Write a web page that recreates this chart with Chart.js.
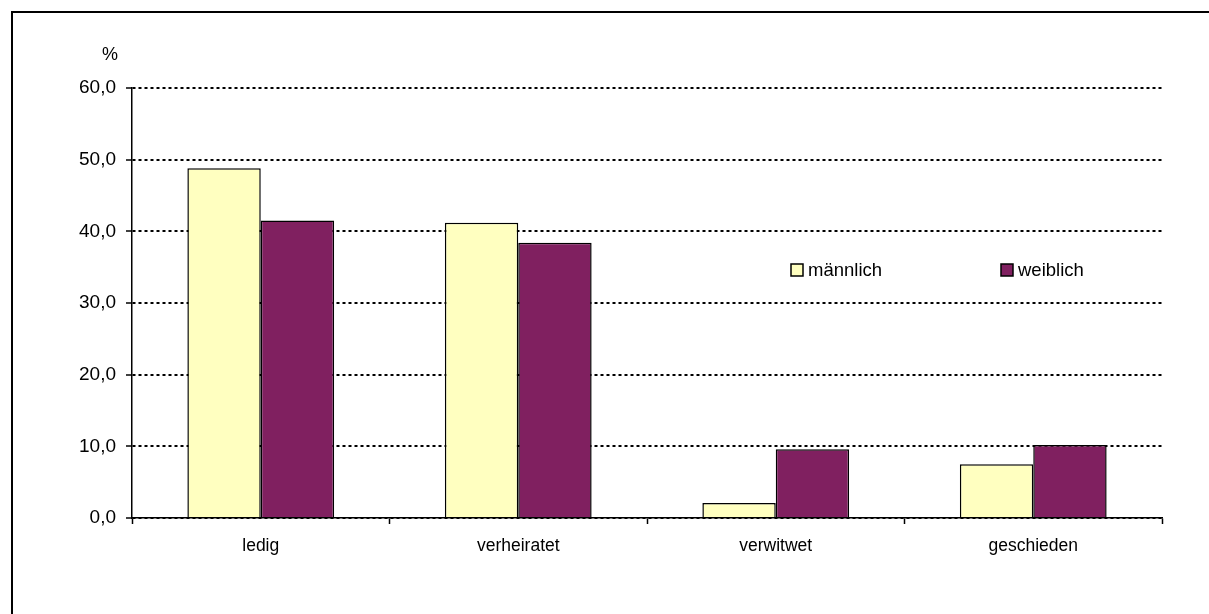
<!DOCTYPE html>
<html>
<head>
<meta charset="utf-8">
<title>Familienstand</title>
<script src="https://cdn.jsdelivr.net/npm/chart.js@4.4.1/dist/chart.umd.min.js"></script>
<style>
  html, body { margin: 0; padding: 0; background: #fff; }
  #wrap { position: relative; width: 1209px; height: 614px; overflow: hidden; }
  #rahmen { position: absolute; left: 11px; top: 11px; width: 1300px; height: 700px;
            border-top: 2px solid #000; border-left: 2px solid #000; }
  #box { position: absolute; left: 0; top: 0; width: 1209px; height: 614px; }
</style>
</head>
<body>
<div id="wrap">
  <div id="rahmen"></div>
  <div id="box"><canvas id="familienChart"></canvas></div>
</div>
<script>
// Familienstand nach Geschlecht, in Prozent
const kategorien = ["ledig", "verheiratet", "verwitwet", "geschieden"];
const maennlich = [48.8, 41.2, 2.1, 7.5];
const weiblich = [41.5, 38.4, 9.6, 10.2];
const yTicks = [0, 10, 20, 30, 40, 50, 60];

const familie = "Arial, 'Liberation Sans', sans-serif";
const schriftY = { family: familie, size: 19 };
const schriftX = { family: familie, size: 17.5 };
const schriftLegende = { family: familie, size: 18.5 };

// "%" über der y-Achse
const einheitPlugin = {
  id: "einheit",
  afterDraw(chart) {
    const ctx = chart.ctx;
    ctx.save();
    ctx.font = `18px ${familie}`;
    ctx.fillStyle = "#000";
    ctx.textAlign = "center";
    ctx.textBaseline = "middle";
    ctx.fillText("%", 110, 55);
    ctx.restore();
  },
};

// Legende innerhalb der Zeichenfläche
const legendePlugin = {
  id: "legende",
  afterDraw(chart) {
    const ctx = chart.ctx;
    const posX = [791, 1001];
    const posY = 270;
    ctx.save();
    ctx.font = `${schriftLegende.size}px ${familie}`;
    ctx.textBaseline = "middle";
    ctx.textAlign = "left";
    chart.data.datasets.forEach((ds, i) => {
      ctx.fillStyle = ds.backgroundColor;
      ctx.fillRect(posX[i], posY - 6, 12, 12);
      ctx.strokeStyle = "#000";
      ctx.lineWidth = 1.5;
      ctx.strokeRect(posX[i], posY - 6, 12, 12);
      ctx.fillStyle = "#000";
      ctx.fillText(ds.label, posX[i] + 17, posY + 1);
    });
    ctx.restore();
  },
};

const ctx = document.getElementById("familienChart").getContext("2d");
new Chart(ctx, {
  type: "bar",
  data: {
    labels: kategorien,
    datasets: [
      {
        label: "männlich",
        data: maennlich,
        backgroundColor: "#FFFFC0",
        borderColor: "#000",
        borderWidth: 1.5,
        categoryPercentage: 0.57,
        barPercentage: 1,
      },
      {
        label: "weiblich",
        data: weiblich,
        backgroundColor: "#802060",
        borderColor: "#000",
        borderWidth: 1.5,
        categoryPercentage: 0.57,
        barPercentage: 1,
      },
    ],
  },
  options: {
    responsive: true,
    maintainAspectRatio: false,
    animation: false,
    layout: { padding: { left: 0, top: 88, right: 47, bottom: 56 } },
    plugins: {
      legend: { display: false },
      tooltip: { enabled: false },
    },
    scales: {
      x: {
        grid: {
          offset: true,
          drawOnChartArea: false,
          color: "#000",
          tickLength: 6,
          tickWidth: 1.5,
        },
        border: { display: true, color: "#000", width: 1.5 },
        ticks: { color: "#000", font: schriftX, padding: 12 },
        afterFit(scale) { scale.height = 40; },
      },
      y: {
        min: 0,
        max: 60,
        afterBuildTicks(scale) { scale.ticks = yTicks.map(v => ({ value: v })); },
        grid: {
          color: "#000",
          lineWidth: 2,
          tickLength: 6,
          tickColor: "#000",
          tickWidth: 1.5,
          tickBorderDash: [],
        },
        border: { display: true, color: "#000", width: 1.5, dash: [3, 3] },
        ticks: {
          color: "#000",
          font: schriftY,
          padding: 10,
          callback: v => v.toFixed(1).replace(".", ","),
        },
        afterFit(scale) { scale.width = 132; },
      },
    },
  },
  plugins: [einheitPlugin, legendePlugin],
});
</script>
</body>
</html>
